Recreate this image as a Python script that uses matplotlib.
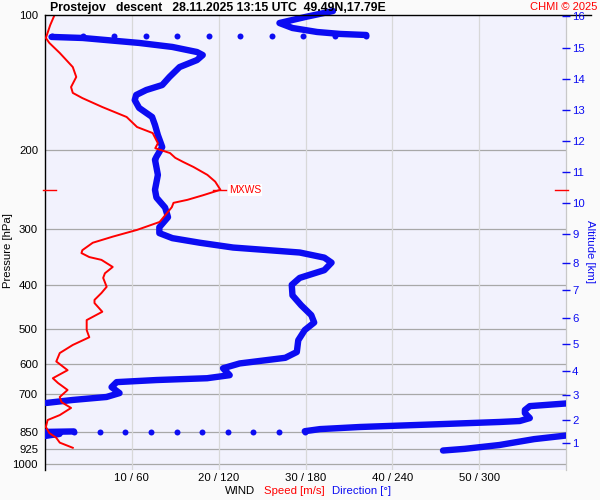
import numpy as np
import matplotlib
matplotlib.use('Agg')
import matplotlib.pyplot as plt
from matplotlib.ticker import NullLocator
import matplotlib.transforms as mtransforms

plt.rcParams['font.family'] = ['Liberation Sans', 'DejaVu Sans']

# ---------------- data ----------------
p_ticks = [100, 200, 300, 400, 500, 600, 700, 850, 925, 1000]
x_ticks = [10, 20, 30, 40, 50]
x_labels = ['10 / 60', '20 / 120', '30 / 180', '40 / 240', '50 / 300']
alt_km = [1, 2, 3, 4, 5, 6, 7, 8, 9, 10, 11, 12, 13, 14, 15, 16]
alt_p = [899, 799, 703, 620, 541, 474, 410, 356, 307.4, 262.2, 224, 191.1, 162.7, 138.6, 118.3, 100.5]

# wind speed profile [m/s]
red_p = [100, 105.3, 112.5, 115.4, 121.5, 130.6, 137.4, 144.7, 149.1, 153.1, 160.3, 168.7, 177.6,
         183.2, 193, 198, 203, 208, 212.4, 218, 227, 235, 245, 252, 258, 262, 268, 289, 301, 311.6,
         321.5, 334, 339, 346, 351, 364, 376, 385, 403, 416, 431, 438, 458, 478, 503, 522, 543, 566,
         591, 618, 644, 660, 684, 709, 728, 750, 778, 798, 827, 853, 874, 896, 920]
red_s = [1.1, 0.6, 0.1, 0.5, 1.7, 3.2, 3.6, 3.0, 3.2, 4.3, 6.6, 9.4, 10.6, 12.4, 13.0, 12.7, 14.4,
         15.0, 15.9, 17.1, 18.7, 19.6, 20.2, 18.2, 16.4, 14.8, 14.6, 13.2, 10.6, 7.8, 5.5, 4.3, 4.2,
         5.1, 6.5, 7.8, 6.9, 6.7, 7.1, 6.5, 5.7, 5.7, 6.6, 4.8, 4.8, 5.1, 3.2, 1.7, 1.3, 2.6, 0.9,
         1.5, 2.6, 1.7, 1.9, 3.0, 1.7, 0.3, 0.1, 0.5, 1.3, 1.7, 3.2]

# wind direction profile [deg], split into segments at jumps / wraps
dir_seg1_p = [98, 101, 104.2, 106.9, 109.1, 110.2, 110.8]
dir_seg1_d = [199, 180, 162, 171, 188, 204, 222]
dir_seg2_p = [111.9, 112.5, 115.4, 117.8, 120.9, 122.8, 126, 130.6, 137.4, 143.2, 146.9, 150.7,
              154.7, 161, 168.7, 175.8, 185.1, 196.8, 206.9, 210, 227, 245, 255, 268.5, 282, 297,
              306, 314, 321.5, 329.5, 338, 347, 356, 370, 385, 399, 421, 443, 466, 484, 503, 530,
              563, 580, 597, 612, 634, 644, 650, 657, 674, 695, 709, 720, 731]
dir_seg2_d = [4.5, 26, 65, 88, 105, 109, 105, 93, 86, 81, 70, 63, 62, 65, 74, 76, 78, 81, 77, 76,
              78, 76, 77, 83, 85, 79, 79, 88, 107, 130, 176, 193, 198, 193, 176, 170.5, 171, 177,
              184, 186, 179.5, 175, 174, 166, 134.5, 123, 127.6, 112, 77, 49.5, 46, 51.5, 42.5,
              19, 1]
dir_seg3_p = [733, 743, 758, 770, 790, 802, 806, 815, 827, 836, 845]
dir_seg3_d = [360, 335, 331.6, 331.6, 335, 328, 314, 273, 217.5, 190, 179.5]
dir_seg4_p = [846, 848, 852, 857, 862, 866]
dir_seg4_d = [20, 1, 5, 10, 4, 0]
dir_seg5_p = [864, 880, 907, 925, 933]
dir_seg5_d = [360, 338, 314, 290, 275]
# sparse jumps drawn as dots: (pressure, from_dir, to_dir, n_dots)
jump1 = (111.4, 222, 4.5, 11)
jump2 = (847, 179.5, 20, 10)

mxws_p = 245
mxws_s = 20.2

BLUE = '#0c0cf2'
RED = '#ff0000'

fig = plt.figure(figsize=(6, 5), dpi=100, facecolor='#fafafa')
ax = fig.add_axes([45 / 600, 1 - 470 / 500, (566 - 45) / 600, 455 / 500])
ax.set_facecolor('#f2f2fd')
ax.set_yscale('log')
ax.set_ylim(1031, 100)
ax.set_xlim(0, 60)

ax.set_yticks(p_ticks)
ax.set_yticklabels([str(v) for v in p_ticks])
ax.yaxis.set_minor_locator(NullLocator())
ax.set_xticks(x_ticks)
ax.set_xticklabels(x_labels)
ax.tick_params(axis='y', length=0, pad=5, labelsize=8.2)
ax.tick_params(axis='x', length=0, pad=2.5, labelsize=8.2)
for p in p_ticks[1:]:
    ax.axhline(p, color='#a8a8a8', lw=0.9, zorder=1)
for x in x_ticks:
    ax.axvline(x, color='#d8d8d8', lw=0.9, zorder=1)

ax.spines['bottom'].set_visible(False)
ax.spines['left'].set_color('black')
ax.spines['left'].set_linewidth(1)
ax.spines['right'].set_color('#c8c8c8')
ax.spines['right'].set_linewidth(0.9)
ax.spines['top'].set_visible(False)
ax.plot([0, (591 - 45) / 521], [1, 1], transform=ax.transAxes, color='black', lw=1,
        clip_on=False, zorder=6)

# direction (thick blue), scaled to speed axis (360 deg = 60 m/s)
segs = [(dir_seg1_p, dir_seg1_d), (dir_seg2_p, dir_seg2_d), (dir_seg3_p, dir_seg3_d),
        (dir_seg4_p, dir_seg4_d), (dir_seg5_p, dir_seg5_d)]
for i, (pp, dd) in enumerate(segs):
    ax.plot(np.array(dd) / 6.0, pp, color=BLUE, lw=4.6, solid_capstyle='round',
            solid_joinstyle='round', zorder=3, clip_on=(i != 0))
for (pj, d0, d1, n) in [jump1, jump2]:
    dd = np.linspace(d0, d1, n)
    ax.plot(dd / 6.0, [pj] * n, 'o', color=BLUE, ms=4.3, mew=0, zorder=3)

# speed (red)
ax.plot(red_s, red_p, color=RED, lw=1.4, zorder=4, solid_joinstyle='round')

# MXWS markers
blend = mtransforms.blended_transform_factory(ax.transAxes, ax.transData)
ax.plot([-2 / 521, 11 / 521], [mxws_p, mxws_p], transform=blend, color=RED, lw=1, clip_on=False, zorder=5)
ax.plot([510 / 521, 523 / 521], [mxws_p, mxws_p], transform=blend, color=RED, lw=1, clip_on=False, zorder=5)
ax.plot([mxws_s - 0.8, mxws_s + 0.6], [mxws_p, mxws_p], color=RED, lw=1, zorder=5)
ax.text(mxws_s + 1.0, mxws_p, 'MXWS', color=RED, fontsize=7.5, va='center', ha='left',
        bbox=dict(facecolor='white', edgecolor='none', pad=0.8), zorder=5)

# right altitude axis
ax2 = ax.twinx()
ax2.set_yscale('log')
ax2.set_ylim(1031, 100)
ax2.set_yticks(alt_p)
ax2.set_yticklabels([str(v) for v in alt_km])
ax2.yaxis.set_minor_locator(NullLocator())
ax2.tick_params(axis='y', colors=BLUE, direction='inout', length=5.8, width=1, pad=1.5, labelsize=8.2)
for s in ax2.spines.values():
    s.set_visible(False)

# texts
fig.text(50 / 600, 1 - 8 / 500, 'Prostejov   descent   28.11.2025 13:15 UTC  49.49N,17.79E',
         fontsize=8.8, fontweight='bold', ha='left', va='center')
fig.text(597 / 600, 1 - 7 / 500, 'CHMI \u00a9 2025', color=RED, fontsize=8.0, ha='right', va='center')
fig.text(8 / 600, 1 - 251 / 500, 'Pressure [hPa]', rotation=90, fontsize=8.2, ha='center', va='center')
fig.text(590 / 600, 1 - 252 / 500, 'Altitude [km]', rotation=270, color=BLUE, fontsize=8.2,
         ha='center', va='center')
fig.text(225 / 600, 1 - 491 / 500, 'WIND', fontsize=8.2, ha='left', va='center')
fig.text(264 / 600, 1 - 491 / 500, 'Speed [m/s]', color=RED, fontsize=8.2, ha='left', va='center')
fig.text(332 / 600, 1 - 491 / 500, 'Direction [\u00b0]', color=BLUE, fontsize=8.2, ha='left', va='center')

fig.savefig('out.png', dpi=100, facecolor=fig.get_facecolor())
